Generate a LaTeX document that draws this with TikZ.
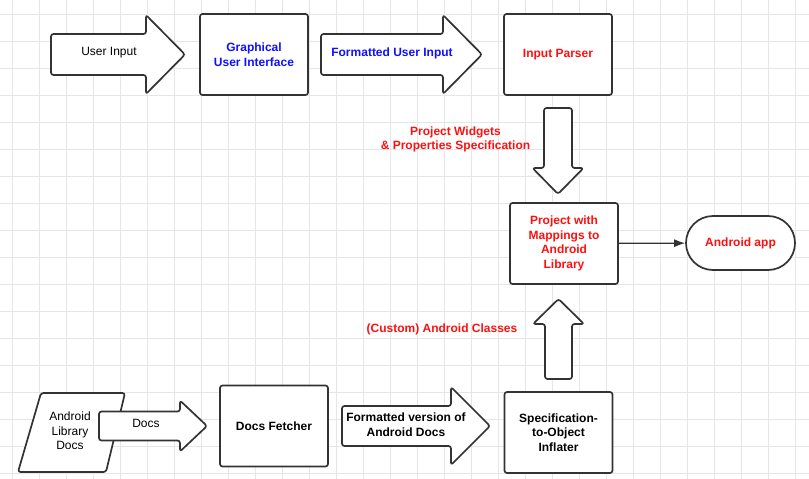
\documentclass[tikz,border=0pt]{standalone}
\usepackage{fontspec}
\setmainfont{Liberation Sans}
\usetikzlibrary{arrows.meta, calc}
\definecolor{lineclr}{HTML}{333333}
\definecolor{gridclr}{HTML}{E6E6E6}
\definecolor{txtblue}{HTML}{1010FF}
\definecolor{txtred}{HTML}{FF1010}
\tikzset{
    gridline/.style={draw=gridclr, line width=0.9pt},
    outline/.style={draw=lineclr, line width=1.7pt, fill=white, rounded corners=2.5pt, line join=round},
    box/.style={outline, minimum width=108pt, minimum height=81pt, inner sep=2pt, align=center},
    lbl/.style={align=center, inner sep=0pt, font=\fontsize{12}{14.5}\selectfont},
    bluetxt/.style={lbl, text=txtblue, font=\fontsize{12}{14.5}\selectfont\bfseries},
    redtxt/.style={lbl, text=txtred, font=\fontsize{12}{14.5}\selectfont\bfseries},
    blktxt/.style={lbl, font=\fontsize{12}{14.5}\selectfont\bfseries},
}
\begin{document}
\begin{tikzpicture}[x=1pt, y=-1pt]
        \useasboundingbox (0,0) rectangle (809,479);
        \fill[white] (0,0) rectangle (809,479);
        % grid
        \foreach \i in {0,...,29} {
            \draw[gridline] (12+27*\i,0) -- (12+27*\i,479);
        }
        \foreach \j in {0,...,17} {
            \draw[gridline] (0,14+27*\j) -- (809,14+27*\j);
        }

        % source document
        \draw[outline] (41,393) -- (125,393) -- (106,472) -- (18,472) -- cycle;
        \node[lbl] (libdocs) at (70,431) {Android\\Library\\Docs};

        % block arrows, left to right: start/base of head/tip/middle/half body/half head
        \foreach \xa/\xb/\xc/\ym/\b/\h in {51/146/185/54.5/20.5/39.5, 321/443/482/54.5/20.5/39.5,
                                           342/451/490/426/20/39, 99/180/207/426/14.5/25.5} {
            \draw[outline] (\xa,\ym-\b) -- (\xb,\ym-\b) -- (\xb,\ym-\h) -- (\xc,\ym)
                -- (\xb,\ym+\h) -- (\xb,\ym+\b) -- (\xa,\ym+\b) -- cycle;
        }
        % block arrows, up and down: middle/start/base of head/tip/half body/half head
        \foreach \xm/\ya/\yb/\yc/\b/\h in {558/108/168/194/14/25.5, 558.5/379/324/299/13.5/25.5} {
            \draw[outline] (\xm-\b,\ya) -- (\xm-\b,\yb) -- (\xm-\h,\yb) -- (\xm,\yc)
                -- (\xm+\h,\yb) -- (\xm+\b,\yb) -- (\xm+\b,\ya) -- cycle;
        }
        \node[lbl] (userin) at (109,53) {User Input};
        \node[bluetxt] (fmtin) at (392,53) {Formatted User Input};
        \node[blktxt] (fmtdocs) at (406,424.5) {Formatted version of\\Android Docs};
        \node[lbl] (docs) at (146,423) {Docs};
        \node[redtxt] (widgets) at (455.5,139.5) {Project Widgets\\\& Properties Specification};
        \node[redtxt] (classes) at (442,329) {(Custom) Android Classes};

        % boxes
        \node[box, bluetxt] (gui) at (254,54.5) {Graphical\\User Interface};
        \node[box, redtxt] (parser) at (558,54.5) {Input Parser};
        \node[box, redtxt] (proj) at (564,243.5) {Project with\\Mappings to\\Android\\Library};
        \node[box, blktxt] (fetcher) at (274,426) {Docs Fetcher};
        \node[box, blktxt] (inflater) at (558.5,432.5) {Specification-\\to-Object\\Inflater};
        \node[outline, redtxt, rounded corners=27pt, minimum width=109pt, minimum height=54pt] (app) at (740.5,243) {Android app};

        \draw[lineclr, line width=1.3pt, -{Latex[length=11pt, width=8pt]}] (proj) -- (app);

    \end{tikzpicture}
\end{document}
